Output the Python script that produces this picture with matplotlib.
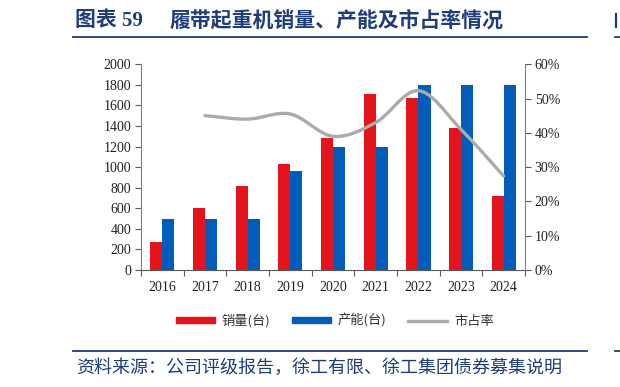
import matplotlib
matplotlib.use("Agg")
import matplotlib.pyplot as plt
import numpy as np
from matplotlib.lines import Line2D
from matplotlib.patches import Patch

years = ["2016", "2017", "2018", "2019", "2020", "2021", "2022", "2023", "2024"]
sales = [270, 600, 820, 1030, 1280, 1710, 1670, 1380, 720]
capacity = [500, 500, 500, 960, 1200, 1200, 1800, 1800, 1800]
share_years = ["2017", "2018", "2019", "2020", "2021", "2022", "2023", "2024"]
share = [0.45, 0.44, 0.455, 0.39, 0.43, 0.523, 0.41, 0.274]

RED = "#E3141C"
BLUE = "#015DB9"
GRAY = "#ABABAB"
DARK = "#1F3D7A"
NUM = ["Liberation Serif", "Noto Sans CJK SC"]
CJK = ["Noto Sans CJK SC", "DejaVu Sans"]


def smooth(x, y, n=20):
    # Catmull-Rom through the points, like Excel's smoothed line
    x = np.asarray(x, float)
    y = np.asarray(y, float)
    px = np.concatenate([[2 * x[0] - x[1]], x, [2 * x[-1] - x[-2]]])
    py = np.concatenate([[2 * y[0] - y[1]], y, [2 * y[-1] - y[-2]]])
    xs, ys = [], []
    for i in range(1, len(px) - 2):
        t = np.linspace(0, 1, n, endpoint=False)
        for p, out in ((px, xs), (py, ys)):
            p0, p1, p2, p3 = p[i - 1], p[i], p[i + 1], p[i + 2]
            out.extend(0.5 * (2 * p1 + (-p0 + p2) * t
                              + (2 * p0 - 5 * p1 + 4 * p2 - p3) * t ** 2
                              + (-p0 + 3 * p1 - 3 * p2 + p3) * t ** 3))
    xs.append(x[-1])
    ys.append(y[-1])
    return np.array(xs), np.array(ys)


fig = plt.figure(figsize=(6.2, 3.87), dpi=100)
ax = fig.add_axes([0.2274, 0.3023, 0.6194, 0.5316])
ax2 = ax.twinx()

pos = np.arange(len(years)) + 0.5
w = 0.285
ax.bar(pos - w / 2, sales, w, color=RED, zorder=2)
ax.bar(pos + w / 2, capacity, w, color=BLUE, zorder=2)

spos = [pos[years.index(y)] for y in share_years]
sx, sy = smooth(spos, share)
ax2.plot(sx, sy, color=GRAY, lw=2.4, solid_capstyle="round")

ax.set_xlim(0, len(years))
ax.set_ylim(0, 2000)
ax.set_yticks(range(0, 2001, 200))
ax2.set_ylim(0, 0.6)
ax2.set_yticks(np.arange(0, 0.61, 0.1))
ax2.set_yticklabels([f"{int(round(v * 100))}%" for v in np.arange(0, 0.61, 0.1)])

ax.set_xticks(np.arange(0, len(years) + 1))
ax.set_xticklabels([])
ax.set_xticks(pos, minor=True)
ax.set_xticklabels(years, minor=True)
ax.tick_params(axis="x", which="minor", length=0, pad=8)
ax.tick_params(axis="x", which="major", length=4, color="#595959", direction="out")
ax.tick_params(axis="y", length=4, color="#595959", pad=3)
ax2.tick_params(axis="y", length=4, color="#595959", pad=3)

for a in (ax, ax2):
    a.spines["top"].set_visible(False)
    for lab in a.get_xticklabels(minor=True) + a.get_yticklabels():
        lab.set_family(NUM)
        lab.set_fontsize(10)
        lab.set_color("#222222")
ax.spines["right"].set_visible(False)
ax2.spines["left"].set_visible(False)
ax2.spines["bottom"].set_visible(False)
ax.spines["left"].set_color("#7f7f7f")
ax.spines["bottom"].set_color("#595959")
ax2.spines["right"].set_color("#7f7f7f")

handles = [Patch(color=RED), Patch(color=BLUE), Line2D([], [], color=GRAY, lw=2.4)]
leg = fig.legend(handles, ["销量(台)", "产能(台)", "市占率"], loc="center",
                 bbox_to_anchor=(0.54, 0.171), ncol=3, frameon=False,
                 prop={"family": CJK, "size": 9.5}, handlelength=3.0, handleheight=0.4,
                 columnspacing=1.6, handletextpad=0.5)
for t in leg.get_texts():
    t.set_color("#333333")

# title block
fig.text(0.121, 0.947, "图表 59", family=NUM, fontsize=15, fontweight="bold",
         color=DARK, va="center")
fig.text(0.273, 0.947, "履带起重机销量、产能及市占率情况", family=CJK, fontsize=15,
         fontweight="bold", color=DARK, va="center")
fig.add_artist(Line2D([0.118, 0.947], [0.905, 0.905], color=DARK, lw=1.3))
fig.add_artist(Line2D([0.992, 1.0], [0.905, 0.905], color=DARK, lw=1.3))
# edge of the next chart's title, cut off by the crop
fig.add_artist(Line2D([0.9935, 0.9935], [0.93, 0.965], color=DARK, lw=1.6))

# source block
fig.add_artist(Line2D([0.118, 0.947], [0.094, 0.094], color=DARK, lw=1.3))
fig.add_artist(Line2D([0.992, 1.0], [0.094, 0.094], color=DARK, lw=1.3))
fig.text(0.122, 0.05, "资料来源：公司评级报告，徐工有限、徐工集团债券募集说明",
         family=CJK, fontsize=13, style="italic", color=DARK, va="center")

fig.savefig("out.png", dpi=100)
